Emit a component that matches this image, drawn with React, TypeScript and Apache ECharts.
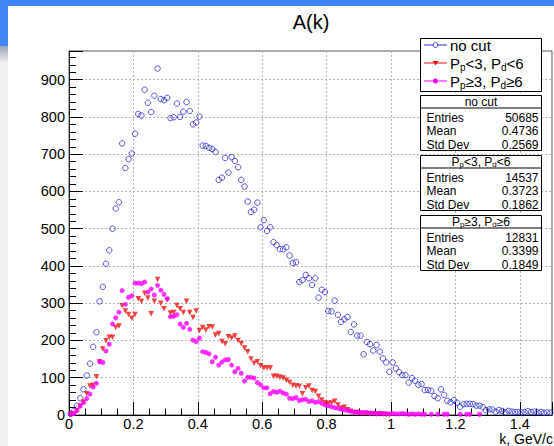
import React, { useEffect, useRef } from "react";
import * as echarts from "echarts";

// ---- data (histogram, 150 bins of width 0.01 on k in [0, 1.5]) ----
const BIN_WIDTH = 0.01;
const X_MIN = 0;
const X_MAX = 1.5;
const Y_MAX = 977;

// "no cut"
const noCutCounts: (number | null)[] = [
  3, 10, 25, 45, 69, 106, 138, 183, 222, 305,
  344, 406, 442, 500, 554, 571, 729, 663, 687, 702,
  755, 808, 804, 873, 838, 813, 857, 930, 848, 845,
  851, 797, 799, 836, 800, 814, 840, 816, 780, 785,
  801, 723, 722, 717, 714, 706, 631, 637, 690, 651,
  692, 682, 665, 631, 613, 573, 545, 551, 570, 504,
  523, 494, 504, 464, 456, 445, 445, 450, 428, 408,
  410, 357, 362, 376, 367, 349, 367, 315, 336, 330,
  279, 278, 307, 269, 250, 257, 263, 223, 243, 213,
  213, 163, 196, 190, 173, 188, 170, 152, 141, 116,
  141, 125, 115, 107, 107, 87, 99, 92, 81, 83,
  67, 67, 65, 51, 45, 69, 54, 38, 34, 40,
  33, 22, 29, 30, 30, 29, 25, 25, 21, 13,
  15, 15, 9, 13, 11, 7, 11, 9, 8, 8,
  7, 8, 10, 8, 9, 7, 8, 6, 7, 6,
];

// "P_p<3, P_d<6"
const lowCutCounts: (number | null)[] = [
  2, 4, 12, 24, 35, 57, 78, 80, 103, 143,
  177, 199, 209, 209, 235, 239, 293, 279, 270, 260,
  270, 312, 305, 327, 314, 272, 305, 364, 300, 285,
  309, 274, 275, 294, 285, 275, 305, 275, 262, 279,
  227, 235, 228, 237, 236, 215, 219, 197, 191, 210,
  207, 212, 200, 192, 180, 170, 150, 139, 143, 132,
  126, 126, 126, 104, 104, 101, 99, 93, 88, 80,
  78, 77, 57, 73, 78, 66, 63, 50, 40, 33,
  31, 32, 37, 27, 18, 21, 14, 10, 6, 7,
  5, 4, 4, 3, 3, 2, 2, 2, 1, 1,
];

// "P_p≥3, P_d≥6"
const highCutCounts: (number | null)[] = [
  2, 4, 12, 24, 33, 44, 56, 75, 85, 143,
  141, 172, 190, 244, 261, 276, 334, 297, 316, 320,
  354, 354, 353, 357, 330, 338, 322, 348, 335, 324,
  312, 264, 265, 269, 244, 235, 246, 230, 201, 197,
  206, 170, 168, 164, 143, 155, 134, 142, 148, 149,
  134, 116, 125, 112, 91, 101, 101, 99, 87, 81,
  73, 73, 57, 63, 61, 64, 59, 56, 45, 44,
  47, 39, 41, 42, 36, 38, 34, 36, 31, 27,
  25, 22, 20, 18, 16, 13, 12, 10, 8, 7,
  6, 6, 7, 5, 5, 4, 5, 4, 4, 3,
  4, 3, 3, 4, 3, 2, 3, 2, 3, 2,
  2, null, 2, null, 2, null, 2, 2, null, null,
  null, 2, null, 2, 2, null, null, 2,
];

const seriesNames = ["no cut", "P_p<3, P_d<6", "P_p≥3, P_d≥6"];
const statsEntries = ["50685", "14537", "12831"];
const statsMeans = ["0.4736", "0.3723", "0.3399"];
const statsStdDevs = ["0.2569", "0.1862", "0.1849"];

// ---- styling ----
const FONT = "'Liberation Sans', Arial, Helvetica, sans-serif";
const BLUE = "#2d2dd2";
const RED = "#ee1111";
const MAGENTA = "#ff00ff";

function toPoints(counts: (number | null)[]) {
  const pts: [number, number][] = [];
  counts.forEach((c, i) => {
    if (c !== null && c !== undefined) pts.push([(i + 0.5) * BIN_WIDTH, c]);
  });
  return pts;
}

// rich-text label with subscripts: "P_p<3, P_d<6"
function subLabel(cmp: string, fontSize: number, lineH: number) {
  const text = `{n|P}{p|p}{n|${cmp}3, P}{d|d}{n|${cmp}6}`;
  const sub = Math.round(fontSize * 0.68);
  const rich = {
    n: { fontSize, fontFamily: FONT, lineHeight: lineH, fill: "#000" },
    p: { fontSize: sub, fontFamily: FONT, lineHeight: Math.round(lineH * 0.4), verticalAlign: "bottom", fill: "#000" },
    d: { fontSize: sub, fontFamily: FONT, lineHeight: Math.round(lineH * 0.2), verticalAlign: "bottom", fill: "#000" },
  };
  return { text, rich };
}

export default function App() {
  const ref = useRef<HTMLDivElement>(null);

  useEffect(() => {
    if (!ref.current) return;
    const chart = echarts.init(ref.current, null, { renderer: "svg" });

    const graphic: any[] = [];
    // window chrome (blue band, left strip)
    graphic.push({ type: "rect", shape: { x: 0, y: 0, width: 554, height: 6 }, style: { fill: "#4285f4" }, silent: true });
    graphic.push({ type: "rect", shape: { x: 0, y: 0, width: 8, height: 46 }, style: { fill: "#4285f4" }, silent: true });
    graphic.push({
      type: "rect",
      shape: { x: 0, y: 46, width: 8, height: 16 },
      style: {
        fill: new echarts.graphic.LinearGradient(0, 0, 0, 1, [
          { offset: 0, color: "#9aa3b4" },
          { offset: 1, color: "#ececec" },
        ]),
      },
      silent: true,
    });
    graphic.push({ type: "rect", shape: { x: 0, y: 62, width: 8, height: 384 }, style: { fill: "#f1f1f1" }, silent: true });

    // title
    graphic.push({
      type: "text", x: 311, y: 22, z: 50,
      style: { text: "A(k)", fontSize: 20, fontFamily: FONT, fill: "#000", align: "center", verticalAlign: "middle" },
    });
    // x axis title
    graphic.push({
      type: "text", x: 553, y: 439, z: 50,
      style: { text: "k, GeV/c", fontSize: 14, lineHeight: 14, fontFamily: FONT, fill: "#000", align: "right", verticalAlign: "middle" },
    });

    // legend
    const LX = 420.5, LW = 121;
    graphic.push({ type: "rect", z: 100, shape: { x: LX, y: 38.5, width: LW, height: 53 }, style: { fill: "#fff", stroke: "#000", lineWidth: 1 } });
    const rowY = [45, 63, 81];
    const colors = [BLUE, RED, MAGENTA];
    rowY.forEach((y, i) => {
      graphic.push({ type: "line", z: 101, shape: { x1: 424, y1: y, x2: 447, y2: y }, style: { stroke: colors[i], lineWidth: 1 } });
      if (i === 0) {
        graphic.push({ type: "circle", z: 102, shape: { cx: 435.5, cy: y, r: 2.4 }, style: { fill: "#fff", stroke: BLUE, lineWidth: 1 } });
      } else if (i === 1) {
        graphic.push({ type: "polygon", z: 102, shape: { points: [[432.5, y - 2], [438.5, y - 2], [435.5, y + 2.6]] }, style: { fill: RED } });
      } else {
        graphic.push({ type: "circle", z: 102, shape: { cx: 435.5, cy: y, r: 2.5 }, style: { fill: MAGENTA } });
      }
      if (i === 0) {
        graphic.push({
          type: "text", z: 102, x: 450, y,
          style: { text: seriesNames[0], fontSize: 15, fontFamily: FONT, fill: "#000", align: "left", verticalAlign: "middle" },
        });
      } else {
        const lab = subLabel(i === 1 ? "<" : "≥", 15, 18);
        graphic.push({
          type: "text", z: 102, x: 450, y,
          style: { text: lab.text, rich: lab.rich, fontSize: 15, fontFamily: FONT, fill: "#000", align: "left", verticalAlign: "middle" },
        });
      }
    });

    // stats boxes
    const tops = [95.5, 155.5, 215.5];
    const SF = 12;
    tops.forEach((T, i) => {
      graphic.push({ type: "rect", z: 100, shape: { x: LX, y: T, width: LW, height: 55 }, style: { fill: "#fff", stroke: "#000", lineWidth: 1 } });
      graphic.push({ type: "line", z: 101, shape: { x1: LX, y1: T + 12.5, x2: LX + LW, y2: T + 12.5 }, style: { stroke: "#000", lineWidth: 1 } });
      if (i === 0) {
        graphic.push({
          type: "text", z: 102, x: LX + LW / 2, y: T + 6.5,
          style: { text: seriesNames[0], fontSize: SF, fontFamily: FONT, fill: "#000", align: "center", verticalAlign: "middle" },
        });
      } else {
        const lab = subLabel(i === 1 ? "<" : "≥", SF, 13);
        graphic.push({
          type: "text", z: 102, x: LX + LW / 2, y: T + 6,
          style: { text: lab.text, rich: lab.rich, fontSize: SF, fontFamily: FONT, fill: "#000", align: "center", verticalAlign: "middle" },
        });
      }
      const labels = ["Entries", "Mean", "Std Dev"];
      const values = [statsEntries[i], statsMeans[i], statsStdDevs[i]];
      labels.forEach((lb, j) => {
        const y = T + 22 + j * 13.5;
        graphic.push({
          type: "text", z: 102, x: LX + 6, y,
          style: { text: lb, fontSize: SF, fontFamily: FONT, fill: "#000", align: "left", verticalAlign: "middle" },
        });
        graphic.push({
          type: "text", z: 102, x: LX + LW - 3, y,
          style: { text: values[j], fontSize: SF, fontFamily: FONT, fill: "#000", align: "right", verticalAlign: "middle" },
        });
      });
    });

    const gridLine = { show: true, lineStyle: { color: "#b4b4b4", type: [2, 2], width: 1 } };

    chart.setOption({
      animation: false,
      backgroundColor: "#ffffff",
      grid: { left: 69, top: 51, width: 483, height: 364, show: true, borderColor: "#555", borderWidth: 1, backgroundColor: "transparent" },
      xAxis: {
        type: "value",
        min: X_MIN,
        max: X_MAX,
        interval: 0.2,
        axisLine: { show: true, onZero: false, lineStyle: { color: "#000", width: 1.2 } },
        axisTick: { show: true, inside: true, length: 13, lineStyle: { color: "#000" } },
        minorTick: { show: true, splitNumber: 4, length: 6.5, lineStyle: { color: "#000" } },
        axisLabel: { showMaxLabel: false, fontSize: 14.5, lineHeight: 14, fontFamily: FONT, color: "#000", margin: 2 },
        splitLine: gridLine,
      },
      yAxis: {
        type: "value",
        min: 0,
        max: Y_MAX,
        interval: 100,
        axisLine: { show: true, onZero: false, lineStyle: { color: "#222", width: 1 } },
        axisTick: { show: true, inside: true, length: 14, lineStyle: { color: "#000" } },
        minorTick: { show: true, splitNumber: 5, length: 7, lineStyle: { color: "#000" } },
        axisLabel: { showMaxLabel: false, fontSize: 14.5, fontFamily: FONT, color: "#000", margin: 4 },
        splitLine: gridLine,
      },
      series: [
        {
          name: seriesNames[0],
          type: "scatter",
          data: toPoints(noCutCounts),
          symbol: "circle",
          symbolSize: 5.5,
          itemStyle: { color: "rgba(0,0,0,0)", borderColor: BLUE, borderWidth: 1 },
          silent: true,
          z: 3,
        },
        {
          name: seriesNames[1],
          type: "scatter",
          data: toPoints(lowCutCounts),
          symbol: "triangle",
          symbolRotate: 180,
          symbolSize: 5.5,
          itemStyle: { color: RED },
          silent: true,
          z: 4,
        },
        {
          name: seriesNames[2],
          type: "scatter",
          data: toPoints(highCutCounts),
          symbol: "circle",
          symbolSize: 5,
          itemStyle: { color: MAGENTA },
          silent: true,
          z: 5,
        },
      ],
      graphic,
    });

    return () => chart.dispose();
  }, []);

  return (
    <div
      ref={ref}
      style={{ position: "fixed", left: 0, top: 0, width: 554, height: 446, background: "#fff" }}
    />
  );
}
